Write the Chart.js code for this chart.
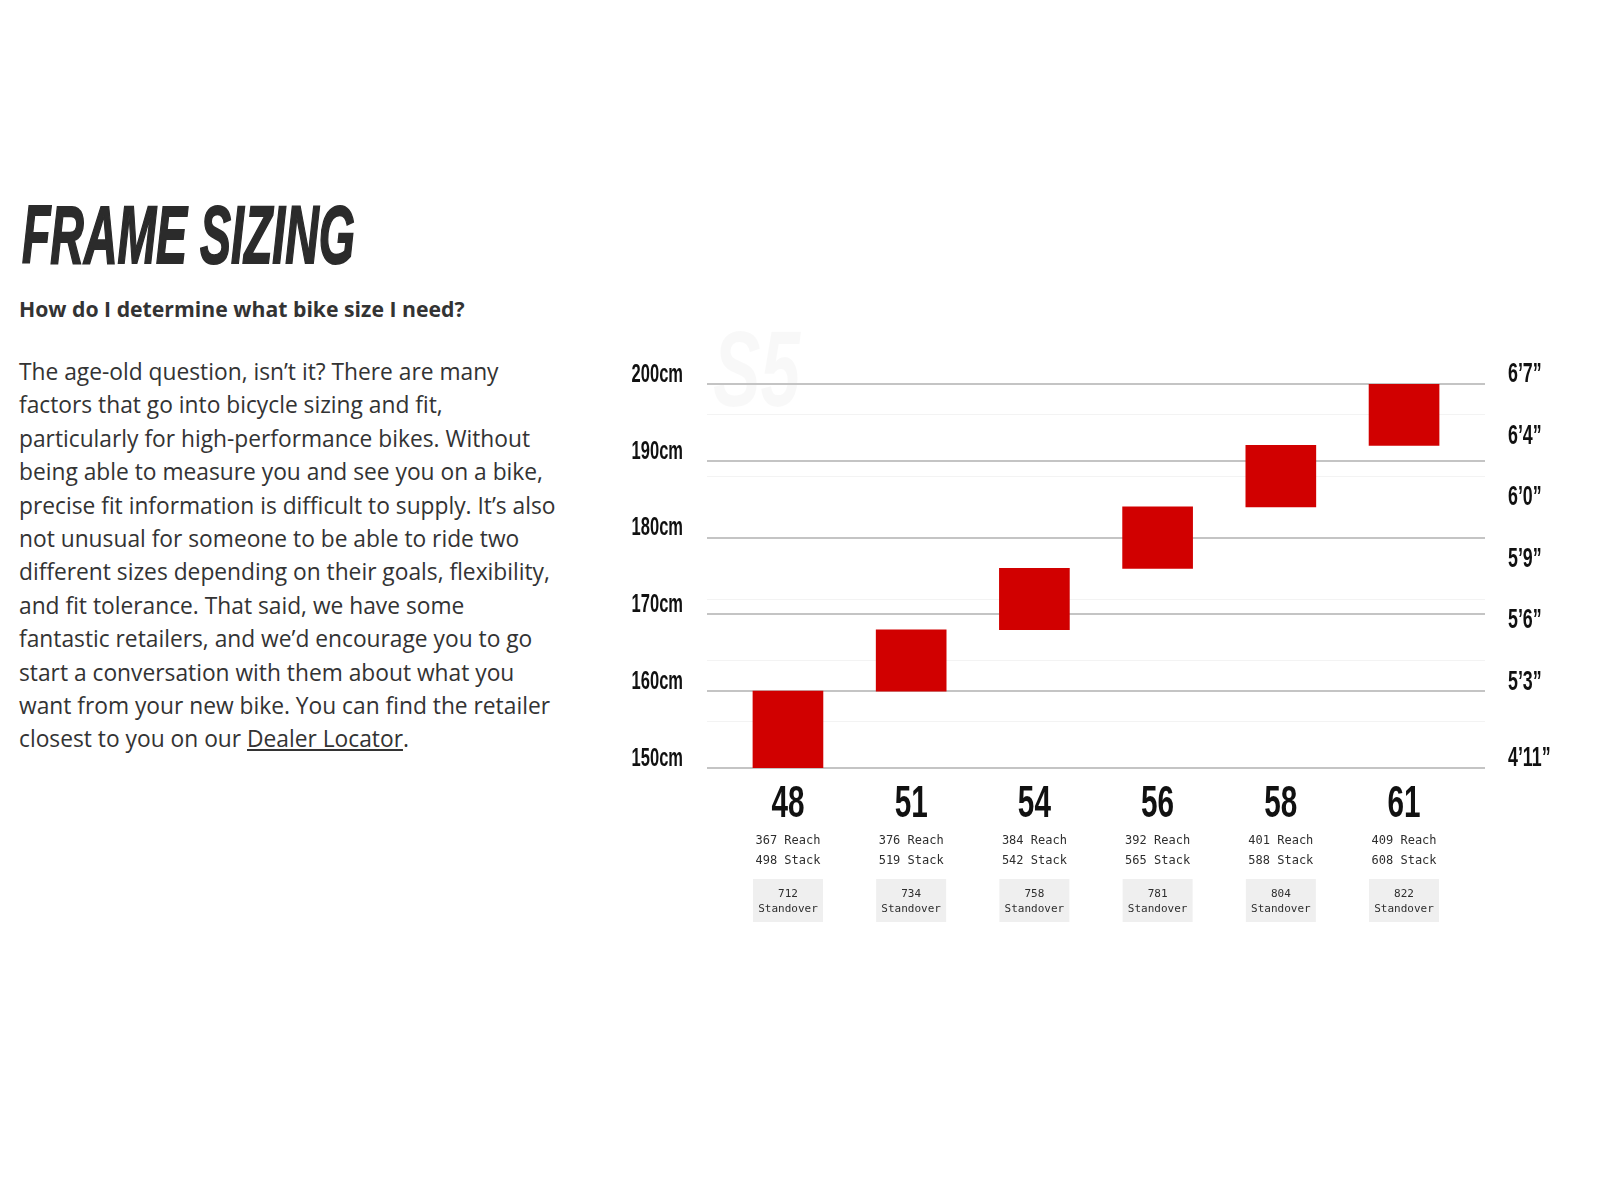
<!DOCTYPE html>
<html>
<head>
<meta charset="utf-8">
<script src="https://cdn.jsdelivr.net/npm/chart.js@4.4.1/dist/chart.umd.min.js"></script>
<style>
    html, body {
        margin: 0;
        padding: 0;
        background: #ffffff;
        width: 1600px;
        height: 1200px;
        overflow: hidden;
    }
    .title {
        position: absolute;
        left: 22px;
        top: 194px;
        font-family: "Liberation Sans", Arial, sans-serif;
        font-weight: bold;
        font-style: italic;
        font-size: 82px;
        line-height: 1;
        color: #2b2b2b;
        -webkit-text-stroke: 2px #2b2b2b;
        white-space: nowrap;
        transform-origin: 0 0;
    }
    .subtitle {
        position: absolute;
        left: 19px;
        top: 298px;
        font-family: "Open Sans", Lato, sans-serif;
        font-weight: bold;
        font-size: 20px;
        line-height: 1;
        color: #333333;
        white-space: nowrap;
    }
    .body-text {
        position: absolute;
        left: 19px;
        top: 355px;
        font-family: "Open Sans", Lato, sans-serif;
        font-size: 20.5px;
        line-height: 33.4px;
        color: #333333;
        white-space: nowrap;
    }
    .body-text a {
        color: #333333;
        text-decoration: underline;
    }
    #chartWrap {
        position: absolute;
        left: 600px;
        top: 320px;
        width: 1000px;
        height: 640px;
    }
</style>
</head>
<body>
<div class="title" id="title">FRAME SIZING</div>
<div class="subtitle" id="subtitle">How do I determine what bike size I need?</div>
<div class="body-text" id="bodyText"><span id="firstLine">The age-old question, isn’t it? There are many</span><br>
factors that go into bicycle sizing and fit,<br>
particularly for high-performance bikes. Without<br>
being able to measure you and see you on a bike,<br>
precise fit information is difficult to supply. It’s also<br>
not unusual for someone to be able to ride two<br>
different sizes depending on their goals, flexibility,<br>
and fit tolerance. That said, we have some<br>
fantastic retailers, and we’d encourage you to go<br>
start a conversation with them about what you<br>
want from your new bike. You can find the retailer<br>
closest to you on our <a href="#">Dealer Locator</a>.</div>
<div id="chartWrap"><canvas id="sizeChart" width="1000" height="640"></canvas></div>

<script>
// Frame sizes and rider height ranges (cm)
const sizes = ['48', '51', '54', '56', '58', '61'];
const heightFrom = [150, 160, 168, 176, 184, 192];
const heightTo = [160, 168, 176, 184, 192, 200];

// Geometry shown under each size
const reach = [367, 376, 384, 392, 401, 409];
const stack = [498, 519, 542, 565, 588, 608];
const standover = [712, 734, 758, 781, 804, 822];

// Axis ticks
const cmTicks = [150, 160, 170, 180, 190, 200];
const minorTicks = [156, 164, 172, 188, 196];
const inchTicks = [150, 160, 168, 176, 184, 192, 200];
const inchLabels = ['4’11”', '5’3”', '5’6”', '5’9”', '6’0”', '6’4”', '6’7”'];

const boldFont = '"Liberation Sans", Arial, sans-serif';
const monoFont = '"DejaVu Sans Mono", "Liberation Mono", monospace';
const squeeze = 0.66; // the site uses a condensed display face

// fit the text blocks to the widths used on the page
const titleEl = document.getElementById('title');
titleEl.style.transform = 'scaleX(' + (333 / titleEl.offsetWidth) + ')';

const subEl = document.getElementById('subtitle');
subEl.style.fontSize = (20 * 446 / subEl.offsetWidth) + 'px';

const bodyEl = document.getElementById('bodyText');
const firstLine = document.getElementById('firstLine');
bodyEl.style.fontSize = (20.5 * 480 / firstLine.offsetWidth) + 'px';

function drawSqueezed(ctx, text, x, y, align) {
    ctx.save();
    ctx.translate(x, y);
    ctx.scale(squeeze, 1);
    ctx.textAlign = align;
    ctx.textBaseline = 'middle';
    ctx.fillText(text, 0, 0);
    ctx.restore();
}

// faint "S5" mark behind the grid
const watermark = {
    id: 'watermark',
    beforeDraw(chart) {
        const { ctx, chartArea } = chart;
        ctx.save();
        ctx.font = 'italic bold 108px ' + boldFont;
        ctx.fillStyle = 'rgba(0, 0, 0, 0.028)';
        drawSqueezed(ctx, 'S5', chartArea.left + 6, chartArea.top - 8, 'left');
        ctx.restore();
    }
};

// condensed axis labels, placed with the chart's own scales
const axisLabels = {
    id: 'axisLabels',
    afterDraw(chart) {
        const { ctx, chartArea, scales } = chart;
        ctx.save();
        ctx.fillStyle = '#111111';

        ctx.font = 'bold 25px ' + boldFont;
        cmTicks.forEach(v => {
            drawSqueezed(ctx, v + 'cm', chartArea.left - 24, scales.y.getPixelForValue(v) - 9, 'right');
        });

        ctx.font = 'bold 27px ' + boldFont;
        inchTicks.forEach((v, i) => {
            drawSqueezed(ctx, inchLabels[i], chartArea.right + 23, scales.y2.getPixelForValue(v) - 9, 'left');
        });

        ctx.font = 'bold 45px ' + boldFont;
        sizes.forEach((s, i) => {
            drawSqueezed(ctx, s, scales.x.getPixelForValue(i), chartArea.bottom + 37, 'center');
        });
        ctx.restore();
    }
};

// reach / stack / standover under each size label
const sizeDetails = {
    id: 'sizeDetails',
    afterDraw(chart) {
        const ctx = chart.ctx;
        const xScale = chart.scales.x;
        const bars = chart.getDatasetMeta(0).data;
        const base = chart.chartArea.bottom;
        ctx.save();
        ctx.textAlign = 'center';
        ctx.textBaseline = 'middle';
        sizes.forEach((s, i) => {
            const cx = xScale.getPixelForValue(i);
            const w = bars[i].width;
            ctx.fillStyle = '#2e2e2e';
            ctx.font = '12px ' + monoFont;
            ctx.fillText(reach[i] + ' Reach', cx, base + 73);
            ctx.fillText(stack[i] + ' Stack', cx, base + 93);
            ctx.fillStyle = '#efefef';
            ctx.fillRect(cx - w / 2, base + 111, w, 43);
            ctx.fillStyle = '#2e2e2e';
            ctx.font = '11px ' + monoFont;
            ctx.fillText(String(standover[i]), cx, base + 126);
            ctx.fillText('Standover', cx, base + 141);
        });
        ctx.restore();
    }
};

new Chart(document.getElementById('sizeChart').getContext('2d'), {
    type: 'bar',
    data: {
        datasets: [{
            label: 'Rider height',
            data: sizes.map((s, i) => ({ x: i, y: [heightFrom[i], heightTo[i]] })),
            backgroundColor: '#d10000',
            borderWidth: 0,
            borderSkipped: false,
            barThickness: 70
        }]
    },
    options: {
        responsive: false,
        animation: false,
        layout: {
            padding: { top: 64, left: 0, right: 0, bottom: 0 }
        },
        plugins: {
            legend: { display: false },
            tooltip: { enabled: false }
        },
        scales: {
            x: {
                type: 'linear',
                offset: false,
                min: -0.657,
                max: 5.657,
                grid: { display: false },
                border: { display: false },
                afterBuildTicks: axis => {
                    axis.ticks = sizes.map((s, i) => ({ value: i }));
                },
                afterFit: axis => { axis.height = 192; },
                ticks: { display: false }
            },
            y: {
                position: 'left',
                min: 150,
                max: 200,
                border: { display: false },
                afterBuildTicks: axis => {
                    axis.ticks = cmTicks.concat(minorTicks).sort((a, b) => a - b).map(v => ({ value: v }));
                },
                afterFit: axis => { axis.width = 107; },
                grid: {
                    drawTicks: false,
                    color: ctx => cmTicks.includes(ctx.tick.value) ? '#c4c4c4' : '#f3f3f3',
                    lineWidth: ctx => cmTicks.includes(ctx.tick.value) ? 2 : 1
                },
                ticks: { display: false }
            },
            y2: {
                position: 'right',
                min: 150,
                max: 200,
                border: { display: false },
                grid: { display: false, drawTicks: false },
                afterBuildTicks: axis => {
                    axis.ticks = inchTicks.map(v => ({ value: v }));
                },
                afterFit: axis => { axis.width = 115; },
                ticks: { display: false }
            }
        }
    },
    plugins: [watermark, axisLabels, sizeDetails]
});
</script>
</body>
</html>
